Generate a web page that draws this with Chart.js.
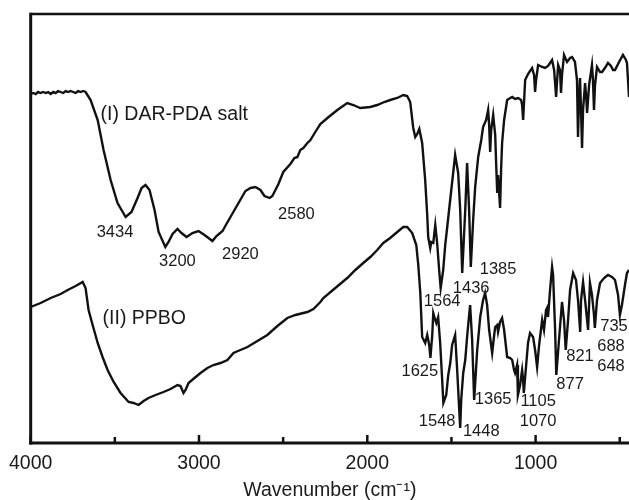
<!DOCTYPE html>
<html>
<head>
<meta charset="utf-8">
<script src="https://cdn.jsdelivr.net/npm/chart.js@4"></script>
<style>
html,body{margin:0;padding:0;background:#fff;}
#wrap{width:629px;height:500px;}
</style>
</head>
<body>
<div id="wrap"><canvas id="c" width="629" height="500"></canvas></div>
<script>
// ---- Data (wavenumber in cm^-1, transmittance in arbitrary units) ----
const wnDAR = [4000,3985,3970,3956,3941,3926,3911,3896,3881,3866,3852,3837,3822,3807,3792,3777,3763,3748,3733,3718,3703,3688,3674,3644,3602,3567,3525,3484,3436,3401,3365,3341,3318,3294,3264,3240,3200,3181,3157,3128,3104,3074,3039,3003,2967,2920,2896,2860,2837,2813,2772,2724,2694,2665,2635,2611,2580,2564,2528,2499,2457,2433,2415,2398,2380,2356,2338,2309,2279,2237,2178,2119,2083,2042,1982,1941,1899,1864,1822,1786,1763,1745,1727,1715,1703,1691,1674,1656,1644,1638,1626,1620,1608,1596,1585,1573,1564,1549,1537,1525,1501,1478,1460,1448,1436,1418,1407,1395,1385,1371,1359,1341,1323,1312,1294,1282,1276,1270,1264,1252,1240,1234,1228,1223,1211,1205,1199,1187,1169,1151,1139,1122,1104,1086,1080,1074,1068,1062,1045,1021,1009,1003,997,985,961,944,926,914,902,890,878,872,866,855,849,843,831,813,795,783,766,754,748,742,736,730,724,718,706,700,694,682,665,659,653,647,635,617,605,588,570,552,540,528,504,481,463,457,451,445];
const tDAR  = [349,350,349,351,350,351,350,351,349,351,350,352,351,350,352,351,352,351,350,352,351,352,351,343,323,293,263,240,226,231,245,255,258,253,233,211,196,201,209,214,210,206,210,212,208,202,207,212,219,226,238,252,255,256,253,247,245,247,259,271,279,285,286,293,295,300,303,311,319,325,333,340,338,335,336,338,341,343,345,348,347,341,315,306,309,314,300,263,228,206,195,201,200,218,200,173,155,173,198,216,253,288,270,233,170,233,280,233,176,223,256,286,303,316,323,333,318,291,313,328,308,278,250,268,235,273,300,323,343,345,346,344,345,343,338,323,343,363,369,375,368,351,363,378,376,375,377,380,383,373,346,363,378,373,350,368,388,381,385,386,381,363,306,343,365,333,295,333,360,348,330,358,378,363,333,358,376,371,371,375,380,377,373,373,381,388,383,380,363,346];

const wnPPBO = [4000,3941,3881,3822,3780,3733,3691,3674,3656,3632,3602,3573,3543,3507,3466,3418,3389,3359,3329,3300,3258,3211,3169,3128,3110,3092,3080,3062,3027,2991,2950,2914,2872,2831,2795,2754,2712,2653,2594,2534,2475,2427,2380,2356,2320,2279,2261,2190,2119,2071,2024,1982,1941,1905,1864,1822,1786,1763,1733,1709,1697,1685,1674,1656,1644,1632,1625,1614,1608,1596,1590,1579,1567,1555,1548,1531,1519,1507,1496,1478,1466,1448,1442,1430,1418,1407,1395,1389,1377,1365,1347,1329,1312,1300,1288,1276,1258,1246,1240,1228,1223,1211,1199,1187,1169,1151,1139,1128,1122,1110,1105,1092,1080,1074,1070,1056,1045,1033,1015,1003,991,979,961,950,938,932,926,914,902,896,884,877,861,843,831,821,807,795,777,760,748,735,730,718,706,688,677,665,653,648,635,617,593,570,546,528,510,499,487,469,457,445];
const tPPBO  = [136,140,145,149,153,157,161,155,133,118,100,86,73,61,50,41,40,38,42,45,48,51,54,58,57,50,53,60,65,70,75,78,80,83,90,93,96,102,108,117,125,128,130,131,134,141,145,155,165,173,180,186,193,200,205,211,216,216,210,198,178,150,106,100,108,98,85,108,130,123,120,126,100,63,40,48,68,80,98,108,73,15,43,70,83,106,128,138,103,43,93,126,143,150,138,113,90,108,116,118,111,121,125,113,86,85,83,73,70,78,48,58,73,63,50,78,100,110,106,93,76,98,123,113,133,135,126,153,176,168,113,68,103,141,123,93,123,153,170,163,143,111,143,161,143,113,160,148,128,115,143,160,165,168,166,163,148,128,138,158,170,173];

const tickValues = [4000,3500,3000,2500,2000,1500,1000,500];
const majorTicks = [4000,3000,2000,1000];

const seriesLabels = ["(I) DAR-PDA salt","(II) PPBO"];
const seriesLabelWn = [3585,3573];
const seriesLabelT = [328,124];

const peakLabels = ["3434","3200","2920","2580","1385","1436","1564","1625","1548","1448","1365","1105","1070","877","821","735","688","648"];
const peakLabelWn = [3499,3128,2754,2421,1223,1383,1555,1688,1585,1323,1252,985,985,795,736,534,552,552];
const peakLabelT = [211,182,189,229,174,155,142,72,22,12,44,42,22,59,87,117,97,77];

const toPts = (xs, ys) => xs.map((x,i)=>({x:x, y:ys[i]}));

const FONT = "'Liberation Sans', Arial, sans-serif";

const framePlugin = {
  id:'frame',
  afterDatasetsDraw(chart){
    const {ctx, chartArea:a, scales:{x,y}} = chart;
    ctx.save();
    // annotations
    ctx.fillStyle = '#1a1a1a';
    ctx.textBaseline = 'middle';
    ctx.font = '19.5px ' + FONT;
    ctx.textAlign = 'left';
    seriesLabels.forEach((t,i)=>{
      ctx.fillText(t, x.getPixelForValue(seriesLabelWn[i]), y.getPixelForValue(seriesLabelT[i]));
    });
    ctx.font = '16.5px ' + FONT;
    ctx.textAlign = 'center';
    peakLabels.forEach((t,i)=>{
      ctx.fillText(t, x.getPixelForValue(peakLabelWn[i]), y.getPixelForValue(peakLabelT[i]));
    });
    // frame
    ctx.strokeStyle = '#111';
    ctx.lineCap = 'butt';
    ctx.lineWidth = 2.5;
    ctx.beginPath(); ctx.moveTo(a.left, a.top); ctx.lineTo(a.right, a.top); ctx.stroke();
    ctx.lineWidth = 3;
    ctx.beginPath(); ctx.moveTo(a.left, a.top-1.25); ctx.lineTo(a.left, a.bottom+1.5); ctx.stroke();
    ctx.beginPath(); ctx.moveTo(a.left-1.5, a.bottom); ctx.lineTo(a.right, a.bottom); ctx.stroke();
    // inward ticks
    ctx.lineWidth = 2.5;
    tickValues.forEach(v=>{
      const px = x.getPixelForValue(v);
      const len = majorTicks.includes(v) ? 8 : 6;
      ctx.beginPath(); ctx.moveTo(px, a.bottom); ctx.lineTo(px, a.bottom-len); ctx.stroke();
    });
    ctx.restore();
  }
};

new Chart(document.getElementById('c'), {
  type:'line',
  data:{
    datasets:[
      {label:seriesLabels[0], data:toPts(wnDAR,tDAR), borderColor:'#111', borderWidth:2.4, pointRadius:0, tension:0, fill:false},
      {label:seriesLabels[1], data:toPts(wnPPBO,tPPBO), borderColor:'#111', borderWidth:2.4, pointRadius:0, tension:0, fill:false}
    ]
  },
  options:{
    responsive:false,
    animation:false,
    parsing:true,
    layout:{padding:{left:30,right:0,top:14,bottom:0}},
    plugins:{legend:{display:false}, tooltip:{enabled:false}},
    scales:{
      x:{
        type:'linear', reverse:true, min:445, max:4000, position:'bottom',
        afterBuildTicks(s){ s.ticks = tickValues.map(v=>({value:v})); },
        afterFit(s){ s.height = 57; },
        grid:{display:false, drawTicks:false},
        border:{display:false},
        ticks:{
          autoSkip:false, maxRotation:0, padding:9, color:'#1a1a1a',
          font:{family:FONT, size:19.5},
          callback:(v)=> majorTicks.includes(v) ? String(v) : ''
        },
        title:{display:true, text:'Wavenumber (cm\u207B\u00B9)', color:'#1a1a1a', font:{family:FONT, size:19.5, lineHeight:1}, padding:{top:0,bottom:0}}
      },
      y:{ type:'linear', min:0, max:429, display:false }
    }
  },
  plugins:[framePlugin]
});
</script>
</body>
</html>
